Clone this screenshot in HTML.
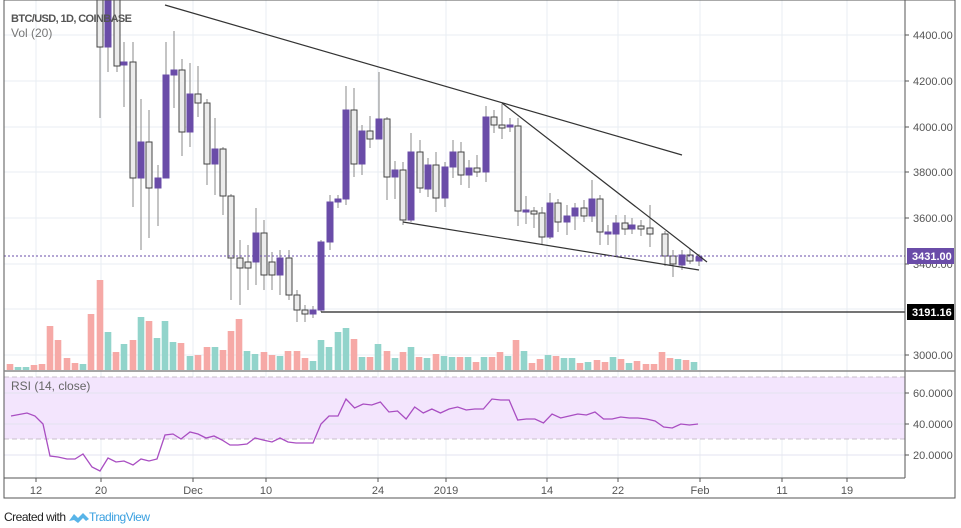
<!DOCTYPE html>
<html><head><meta charset="utf-8"><style>
body{margin:0;background:#fff;width:961px;height:528px;overflow:hidden;font-family:"Liberation Sans",sans-serif}
svg{position:absolute;left:0;top:0}
</style></head><body>
<svg id="s" width="961" height="528" xmlns="http://www.w3.org/2000/svg" font-family="Liberation Sans, sans-serif"></svg>
<script>
const s=document.getElementById('s');let h='';
const dx=[36,101,193,266,378,446,547,618,700,782,847];
dx.forEach(x=>h+=`<line x1="${x}" y1="0" x2="${x}" y2="478" stroke="#e9eef3"/>`);
[35,81,127,172,218,264,309,355].forEach(y=>h+=`<line x1="4" y1="${y}" x2="905" y2="${y}" stroke="#e9eef3"/>`);
h+=`<rect x="4" y="377" width="901" height="62" fill="#f3e5fd"/>`;
[393,424,455].forEach(y=>h+=`<line x1="4" y1="${y}" x2="905" y2="${y}" stroke="#e3e3f0"/>`);
h+=`<line x1="4" y1="377" x2="905" y2="377" stroke="#c8c0cc" stroke-dasharray="5,3"/><line x1="4" y1="439" x2="905" y2="439" stroke="#c8c0cc" stroke-dasharray="5,3"/>`;
const vol=[[10,364,0],[18,367,1],[26,367,1],[34,365,0],[42,364,0],[50,326,0],[58,340,0],[67,358,0],[75,363,0],[83,364,1],[91,314,0],[100,280,0],[108,332,1],[116,352,0],[124,344,1],[133,340,0],[141,317,1],[149,321,0],[157,338,1],[165,321,1],[173,342,1],[181,343,0],[190,356,1],[198,355,0],[207,347,0],[215,347,1],[223,350,0],[231,331,0],[239,319,0],[247,351,1],[255,354,1],[264,352,0],[272,355,0],[280,356,1],[288,351,0],[297,351,0],[305,358,0],[313,361,1],[321,340,1],[329,347,1],[338,332,1],[346,328,1],[354,339,0],[362,357,1],[370,357,0],[378,344,1],[387,351,0],[395,358,1],[403,352,0],[411,347,1],[419,357,0],[427,358,1],[436,354,0],[444,356,1],[452,357,1],[460,357,0],[468,357,1],[476,362,0],[484,357,1],[492,357,0],[500,352,0],[508,356,1],[516,340,0],[524,351,1],[532,363,0],[540,359,0],[548,355,1],[556,356,0],[564,358,1],[572,358,1],[580,363,0],[588,362,1],[597,360,0],[605,362,0],[613,357,1],[621,359,0],[629,363,1],[637,361,0],[646,364,0],[654,364,0],[662,352,0],[670,358,0],[678,359,1],[686,360,0],[694,362,1]];
vol.forEach(v=>h+=`<rect x="${v[0]-3.3}" y="${v[1]}" width="6.6" height="${370-v[1]}" fill="${v[2]?'#92d4cb':'#f6a9a6'}"/>`);
const c=[[100,0,47,0,118,0],[108,0,47,0,72,1],[117,0,66,0,72,0],[124,62,65,42,107,1],[133,62,178,42,207,0],[141,142,178,99,250,1],[149,142,188,110,238,0],[158,178,188,165,226,1],[166,75,178,42,178,1],[174,70,75,31,108,1],[182,70,132,59,156,0],[190,94,132,63,147,1],[198,94,103,66,117,0],[207,103,164,99,185,0],[215,149,164,118,195,1],[223,149,196,147,215,0],[231,196,258,194,300,0],[240,258,268,240,305,0],[248,262,268,245,290,0],[256,233,262,208,285,1],[264,233,275,220,290,0],[272,262,275,252,290,0],[280,258,275,250,295,1],[289,258,295,250,300,0],[297,295,310,290,322,0],[305,310,314,305,322,0],[313,310,314,306,318,1],[321,242,310,240,312,1],[330,202,242,195,250,1],[338,199,202,195,208,1],[346,110,199,86,205,1],[354,110,164,88,177,0],[362,131,164,125,175,1],[370,131,139,116,148,0],[379,119,139,72,139,1],[387,119,177,117,200,0],[395,170,177,161,199,1],[403,170,220,162,225,0],[411,152,220,133,222,1],[420,152,188,140,193,0],[428,165,189,158,197,1],[436,165,198,152,212,0],[445,167,198,162,207,1],[453,152,167,140,178,1],[461,152,175,142,185,0],[469,168,175,160,188,1],[477,168,172,155,177,0],[486,117,172,106,182,1],[494,117,125,110,133,0],[502,125,128,104,139,0],[510,125,127,118,132,1],[518,126,211,118,226,0],[526,210,212,196,224,1],[534,211,214,207,228,0],[542,213,237,207,245,0],[550,203,237,193,239,1],[558,203,222,199,232,0],[567,216,222,205,235,1],[575,208,216,203,230,1],[584,208,216,200,222,0],[592,199,216,180,222,1],[600,199,232,195,245,0],[608,232,234,225,245,1],[616,223,234,215,257,1],[625,223,229,215,235,0],[632,225,229,218,234,1],[641,226,229,220,236,0],[650,228,234,205,247,0],[665,234,256,231,266,0],[673,256,264,250,277,0],[682,255,265,250,270,1],[690,255,261,249,264,0],[699,257,261,254,266,1]];
let cs='';
c.forEach(k=>{const[x,o,cl,hi,lo,up]=k;cs+=`<line x1="${x}" y1="${hi}" x2="${x}" y2="${lo}" stroke="#8a8a8a"/>`;
cs+=`<rect x="${x-3}" y="${o}" width="6" height="${Math.max(cl-o,2)}" fill="${up?'#6a4ca8':'#ececec'}" stroke="${up?'#6a4ca8':'#444'}" stroke-width="1"/>`});
h+=`<g clip-path="url(#cp)">${cs}</g>`;
h+=`<line x1="165" y1="5" x2="682" y2="155" stroke="#333" stroke-width="1.2"/>`;
h+=`<line x1="502" y1="103" x2="707" y2="262" stroke="#333" stroke-width="1.2"/>`;
h+=`<line x1="403" y1="222" x2="699" y2="270" stroke="#333" stroke-width="1.2"/>`;
h+=`<line x1="321" y1="312" x2="905" y2="312" stroke="#222" stroke-width="1.2"/>`;
h+=`<line x1="4" y1="256" x2="905" y2="256" stroke="#6a4ca8" stroke-dasharray="2,2"/>`;
const r1=[[11,416],[27,413],[35,416],[43,424],[50,456],[58,457],[67,459],[75,459],[83,454],[92,467],[100,471],[108,458],[116,462],[124,461],[133,465],[141,459],[149,461],[157,459],[165,435],[173,434],[181,439],[190,432],[198,434],[206,438],[214,436],[222,440],[230,445],[238,445],[247,444],[255,438],[263,440],[272,442],[280,438],[288,442],[296,443],[304,443],[313,443],[321,424],[329,416],[338,416]];
const rv=[399,408,404,405,402,412,411,419,407,413,409,413,409,407,410,409,409,399,400,400,420,419,419,423,414,418,416,414,415,412,419,419,417,418,418,419,421,427,428,424,425,424];
rv.forEach((y,i)=>r1.push([346+i*(352/(rv.length-1)),y]));
h+=`<polyline points="${r1.map(p=>p.join(',')).join(' ')}" fill="none" stroke="#a94ec2" stroke-width="1.3"/>`;
h+=`<rect x="4" y="0" width="951" height="498" fill="none" stroke="#555"/>`;
h+=`<line x1="905" y1="0" x2="905" y2="478" stroke="#555"/><line x1="4" y1="371" x2="955" y2="371" stroke="#888" stroke-width="1.5"/><line x1="4" y1="478" x2="905" y2="478" stroke="#555"/>`;
[[35,'4400.00'],[81,'4200.00'],[127,'4000.00'],[172,'3800.00'],[218,'3600.00'],[264,'3400.00'],[355,'3000.00'],[393,'60.0000'],[424,'40.0000'],[455,'20.0000']].forEach(([y,t])=>h+=`<line x1="905" y1="${y}" x2="909" y2="${y}" stroke="#555"/><text x="913" y="${y+4}" font-size="11" fill="#555">${t}</text>`);
h+=`<rect x="907" y="248" width="47" height="16" fill="#6a4ca8"/><text x="912" y="260" font-size="11" fill="#fff" font-weight="bold">3431.00</text>`;
h+=`<rect x="907" y="304" width="47" height="16" fill="#000"/><text x="912" y="316" font-size="11" fill="#fff" font-weight="bold">3191.16</text>`;
[[36,'12'],[101,'20'],[193,'Dec'],[266,'10'],[378,'24'],[446,'2019'],[547,'14'],[618,'22'],[700,'Feb'],[782,'11'],[847,'19']].forEach(([x,t])=>h+=`<line x1="${x}" y1="478" x2="${x}" y2="482" stroke="#555"/><text x="${x}" y="494" font-size="11" fill="#555" text-anchor="middle">${t}</text>`);
h+=`<text x="11" y="22" font-size="11" fill="#555" font-weight="bold" textLength="121">BTC/USD, 1D, COINBASE</text><text x="11" y="37" font-size="12" fill="#777">Vol (20)</text><text x="11" y="390" font-size="12" fill="#666">RSI (14, close)</text>`;
h+=`<text x="4" y="521" font-size="12" fill="#222" textLength="62">Created with</text><path d="M69 521 l5-7 l4 4 l5-5 l6 6 l-3 2 l-3-3 l-5 5 l-4-3 z" fill="#58b4e8"/><text x="89" y="521" font-size="12" fill="#3aa0e0" textLength="61">TradingView</text>`;
s.innerHTML=`<defs><clipPath id="cp"><rect x="4" y="0" width="901" height="370"/></clipPath></defs>`+h;
</script>
</body></html>
